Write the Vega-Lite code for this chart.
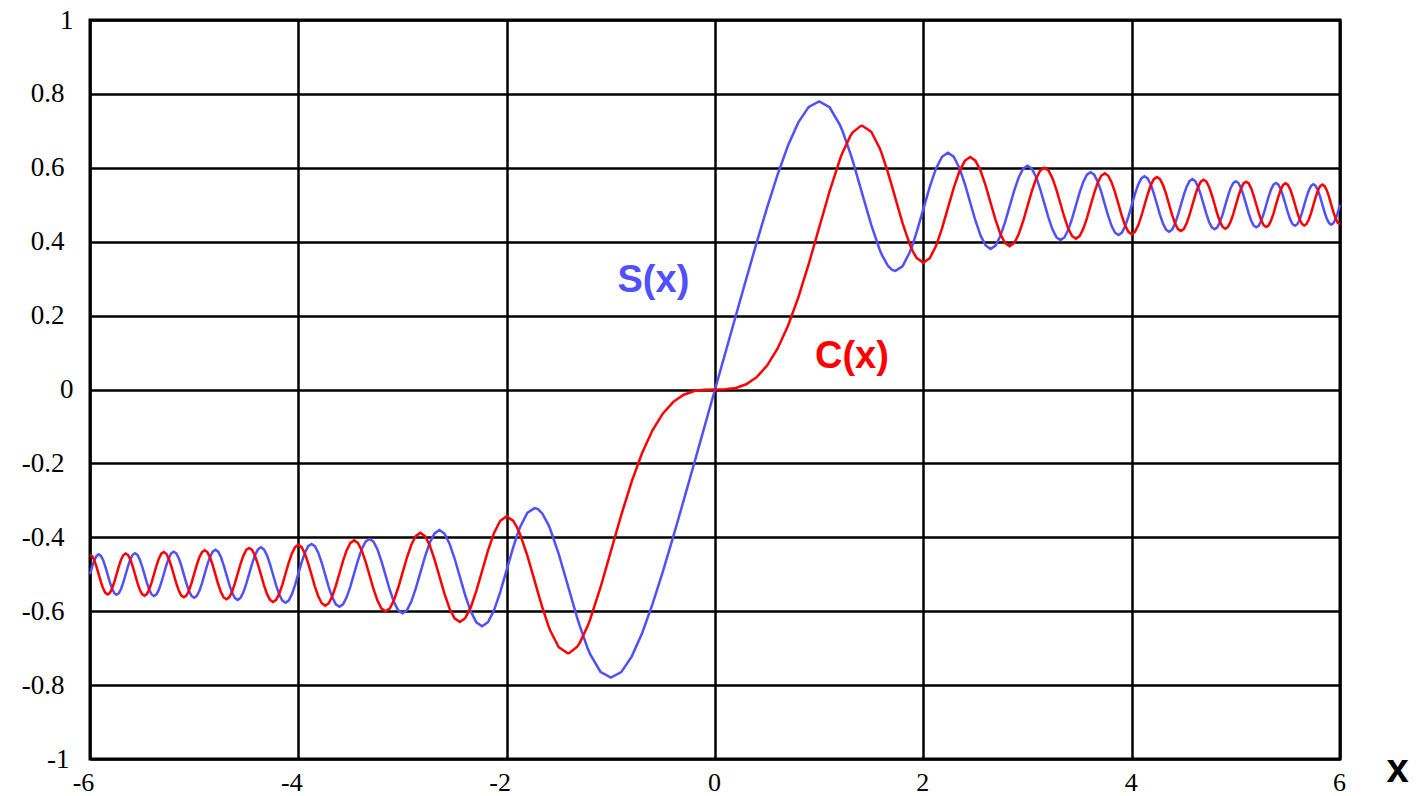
{
  "$schema": "https://vega.github.io/schema/vega-lite/v6.json",
  "width": 1250,
  "height": 739,
  "autosize": {"type": "none"},
  "padding": {"left": 90, "top": 20, "right": 85, "bottom": 37},
  "background": "white",
  "config": {
    "view": {"stroke": "black", "strokeWidth": 3},
    "axis": {
      "grid": true,
      "gridColor": "black",
      "gridWidth": 2.5,
      "gridOpacity": 1,
      "ticks": false,
      "tickSize": 0,
      "domain": false,
      "labelFont": "Liberation Serif",
      "labelFontSize": 27,
      "labelColor": "black",
      "labelFlush": false,
      "labelOverlap": false,
      "labelExpr": "'' + datum.value"
    }
  },
  "data": {
    "values": [
      {"x": -6, "S": -0.4995, "C": -0.447},
      {"x": -5.9791, "S": -0.4792, "C": -0.451},
      {"x": -5.9582, "S": -0.4619, "C": -0.4626},
      {"x": -5.9372, "S": -0.4503, "C": -0.4799},
      {"x": -5.9161, "S": -0.4462, "C": -0.5005},
      {"x": -5.8949, "S": -0.4503, "C": -0.5211},
      {"x": -5.8737, "S": -0.462, "C": -0.5387},
      {"x": -5.8524, "S": -0.4797, "C": -0.5504},
      {"x": -5.831, "S": -0.5005, "C": -0.5546},
      {"x": -5.8095, "S": -0.5214, "C": -0.5504},
      {"x": -5.7879, "S": -0.5393, "C": -0.5385},
      {"x": -5.7663, "S": -0.5512, "C": -0.5206},
      {"x": -5.7446, "S": -0.5554, "C": -0.4995},
      {"x": -5.7228, "S": -0.5512, "C": -0.4782},
      {"x": -5.7009, "S": -0.5391, "C": -0.4601},
      {"x": -5.6789, "S": -0.5209, "C": -0.448},
      {"x": -5.6569, "S": -0.4994, "C": -0.4438},
      {"x": -5.6347, "S": -0.4779, "C": -0.448},
      {"x": -5.6125, "S": -0.4595, "C": -0.4603},
      {"x": -5.5902, "S": -0.4472, "C": -0.4788},
      {"x": -5.5678, "S": -0.4429, "C": -0.5006},
      {"x": -5.5453, "S": -0.4472, "C": -0.5225},
      {"x": -5.5227, "S": -0.4597, "C": -0.5412},
      {"x": -5.5, "S": -0.4784, "C": -0.5537},
      {"x": -5.4772, "S": -0.5006, "C": -0.5581},
      {"x": -5.4544, "S": -0.5229, "C": -0.5537},
      {"x": -5.4314, "S": -0.5419, "C": -0.541},
      {"x": -5.4083, "S": -0.5546, "C": -0.5219},
      {"x": -5.3852, "S": -0.5591, "C": -0.4994},
      {"x": -5.3619, "S": -0.5546, "C": -0.4767},
      {"x": -5.3385, "S": -0.5417, "C": -0.4574},
      {"x": -5.3151, "S": -0.5223, "C": -0.4444},
      {"x": -5.2915, "S": -0.4993, "C": -0.4399},
      {"x": -5.2678, "S": -0.4763, "C": -0.4445},
      {"x": -5.244, "S": -0.4566, "C": -0.4576},
      {"x": -5.2202, "S": -0.4434, "C": -0.4773},
      {"x": -5.1962, "S": -0.4388, "C": -0.5007},
      {"x": -5.172, "S": -0.4434, "C": -0.5242},
      {"x": -5.1478, "S": -0.4568, "C": -0.5442},
      {"x": -5.1235, "S": -0.4769, "C": -0.5577},
      {"x": -5.099, "S": -0.5008, "C": -0.5624},
      {"x": -5.0744, "S": -0.5247, "C": -0.5576},
      {"x": -5.0498, "S": -0.5451, "C": -0.544},
      {"x": -5.0249, "S": -0.5588, "C": -0.5235},
      {"x": -5, "S": -0.5636, "C": -0.4992},
      {"x": -4.9749, "S": -0.5588, "C": -0.4748},
      {"x": -4.9497, "S": -0.5449, "C": -0.454},
      {"x": -4.9244, "S": -0.5239, "C": -0.44},
      {"x": -4.899, "S": -0.4991, "C": -0.4351},
      {"x": -4.8734, "S": -0.4742, "C": -0.44},
      {"x": -4.8477, "S": -0.453, "C": -0.4542},
      {"x": -4.8218, "S": -0.4387, "C": -0.4756},
      {"x": -4.7958, "S": -0.4337, "C": -0.5009},
      {"x": -4.7697, "S": -0.4387, "C": -0.5264},
      {"x": -4.7434, "S": -0.4533, "C": -0.5481},
      {"x": -4.717, "S": -0.4751, "C": -0.5627},
      {"x": -4.6904, "S": -0.501, "C": -0.5678},
      {"x": -4.6637, "S": -0.527, "C": -0.5626},
      {"x": -4.6368, "S": -0.5492, "C": -0.5478},
      {"x": -4.6098, "S": -0.5642, "C": -0.5255},
      {"x": -4.5826, "S": -0.5694, "C": -0.499},
      {"x": -4.5552, "S": -0.5641, "C": -0.4723},
      {"x": -4.5277, "S": -0.5489, "C": -0.4496},
      {"x": -4.5, "S": -0.526, "C": -0.4343},
      {"x": -4.4721, "S": -0.4989, "C": -0.4289},
      {"x": -4.4441, "S": -0.4716, "C": -0.4343},
      {"x": -4.4159, "S": -0.4482, "C": -0.4499},
      {"x": -4.3875, "S": -0.4326, "C": -0.4734},
      {"x": -4.3589, "S": -0.427, "C": -0.5012},
      {"x": -4.3301, "S": -0.4326, "C": -0.5293},
      {"x": -4.3012, "S": -0.4486, "C": -0.5532},
      {"x": -4.272, "S": -0.4727, "C": -0.5693},
      {"x": -4.2426, "S": -0.5013, "C": -0.575},
      {"x": -4.2131, "S": -0.5301, "C": -0.5692},
      {"x": -4.1833, "S": -0.5547, "C": -0.5528},
      {"x": -4.1533, "S": -0.5713, "C": -0.528},
      {"x": -4.1231, "S": -0.5771, "C": -0.4986},
      {"x": -4.0927, "S": -0.5712, "C": -0.4689},
      {"x": -4.062, "S": -0.5543, "C": -0.4436},
      {"x": -4.0311, "S": -0.5288, "C": -0.4265},
      {"x": -4, "S": -0.4984, "C": -0.4205},
      {"x": -3.9686, "S": -0.4679, "C": -0.4266},
      {"x": -3.937, "S": -0.4417, "C": -0.4441},
      {"x": -3.9051, "S": -0.4241, "C": -0.4704},
      {"x": -3.873, "S": -0.4179, "C": -0.5017},
      {"x": -3.8406, "S": -0.4242, "C": -0.5333},
      {"x": -3.8079, "S": -0.4423, "C": -0.5603},
      {"x": -3.7749, "S": -0.4695, "C": -0.5785},
      {"x": -3.7417, "S": -0.5019, "C": -0.5849},
      {"x": -3.7081, "S": -0.5346, "C": -0.5784},
      {"x": -3.6742, "S": -0.5626, "C": -0.5597},
      {"x": -3.6401, "S": -0.5815, "C": -0.5315},
      {"x": -3.6056, "S": -0.5881, "C": -0.4979},
      {"x": -3.5707, "S": -0.5814, "C": -0.4639},
      {"x": -3.5355, "S": -0.5619, "C": -0.4349},
      {"x": -3.5, "S": -0.5326, "C": -0.4153},
      {"x": -3.4641, "S": -0.4976, "C": -0.4083},
      {"x": -3.4278, "S": -0.4622, "C": -0.4154},
      {"x": -3.3912, "S": -0.432, "C": -0.4356},
      {"x": -3.3541, "S": -0.4115, "C": -0.4662},
      {"x": -3.3166, "S": -0.4043, "C": -0.5027},
      {"x": -3.2787, "S": -0.4116, "C": -0.5397},
      {"x": -3.2404, "S": -0.4328, "C": -0.5714},
      {"x": -3.2016, "S": -0.4649, "C": -0.5928},
      {"x": -3.1623, "S": -0.5032, "C": -0.6004},
      {"x": -3.1225, "S": -0.5419, "C": -0.5926},
      {"x": -3.0822, "S": -0.5752, "C": -0.5704},
      {"x": -3.0414, "S": -0.5977, "C": -0.5366},
      {"x": -3, "S": -0.6057, "C": -0.4963},
      {"x": -2.958, "S": -0.5976, "C": -0.4554},
      {"x": -2.9155, "S": -0.5741, "C": -0.4203},
      {"x": -2.8723, "S": -0.5384, "C": -0.3965},
      {"x": -2.8284, "S": -0.4956, "C": -0.388},
      {"x": -2.7839, "S": -0.4522, "C": -0.3966},
      {"x": -2.7386, "S": -0.4148, "C": -0.4216},
      {"x": -2.6926, "S": -0.3894, "C": -0.4597},
      {"x": -2.6458, "S": -0.3804, "C": -0.5053},
      {"x": -2.5981, "S": -0.3897, "C": -0.5518},
      {"x": -2.5495, "S": -0.4165, "C": -0.5919},
      {"x": -2.5, "S": -0.4574, "C": -0.6192},
      {"x": -2.4495, "S": -0.5066, "C": -0.629},
      {"x": -2.3979, "S": -0.5569, "C": -0.6189},
      {"x": -2.3452, "S": -0.6004, "C": -0.5898},
      {"x": -2.2913, "S": -0.6302, "C": -0.5452},
      {"x": -2.2361, "S": -0.6408, "C": -0.4914},
      {"x": -2.1795, "S": -0.6298, "C": -0.4362},
      {"x": -2.1213, "S": -0.5977, "C": -0.3882},
      {"x": -2.0616, "S": -0.5483, "C": -0.3553},
      {"x": -2, "S": -0.4883, "C": -0.3434},
      {"x": -1.9365, "S": -0.4264, "C": -0.3558},
      {"x": -1.9, "S": -0.3945, "C": -0.3734},
      {"x": -1.8708, "S": -0.3722, "C": -0.3921},
      {"x": -1.8028, "S": -0.3347, "C": -0.4484},
      {"x": -1.8, "S": -0.3336, "C": -0.4509},
      {"x": -1.7321, "S": -0.3211, "C": -0.5173},
      {"x": -1.7, "S": -0.3238, "C": -0.5492},
      {"x": -1.6583, "S": -0.3355, "C": -0.5892},
      {"x": -1.6, "S": -0.3655, "C": -0.6389},
      {"x": -1.5811, "S": -0.3782, "C": -0.6528},
      {"x": -1.5, "S": -0.4453, "C": -0.6975},
      {"x": -1.4142, "S": -0.5288, "C": -0.714},
      {"x": -1.4, "S": -0.5431, "C": -0.7135},
      {"x": -1.3229, "S": -0.6179, "C": -0.6961},
      {"x": -1.3, "S": -0.6386, "C": -0.6863},
      {"x": -1.2247, "S": -0.6988, "C": -0.6417},
      {"x": -1.2, "S": -0.7154, "C": -0.6234},
      {"x": -1.1, "S": -0.7638, "C": -0.5365},
      {"x": -1, "S": -0.7799, "C": -0.4383},
      {"x": -0.9, "S": -0.7648, "C": -0.3397},
      {"x": -0.8, "S": -0.7228, "C": -0.2493},
      {"x": -0.7, "S": -0.6597, "C": -0.1721},
      {"x": -0.6, "S": -0.5811, "C": -0.1105},
      {"x": -0.5, "S": -0.4923, "C": -0.0647},
      {"x": -0.4, "S": -0.3975, "C": -0.0334},
      {"x": -0.3, "S": -0.2994, "C": -0.0141},
      {"x": -0.2, "S": -0.1999, "C": -0.0042},
      {"x": -0.1, "S": -0.0999, "C": -0.0005},
      {"x": 0, "S": 0, "C": 0},
      {"x": 0.1, "S": 0.0999, "C": 0.0005},
      {"x": 0.2, "S": 0.1999, "C": 0.0042},
      {"x": 0.3, "S": 0.2994, "C": 0.0141},
      {"x": 0.4, "S": 0.3975, "C": 0.0334},
      {"x": 0.5, "S": 0.4923, "C": 0.0647},
      {"x": 0.6, "S": 0.5811, "C": 0.1105},
      {"x": 0.7, "S": 0.6597, "C": 0.1721},
      {"x": 0.8, "S": 0.7228, "C": 0.2493},
      {"x": 0.9, "S": 0.7648, "C": 0.3397},
      {"x": 1, "S": 0.7799, "C": 0.4383},
      {"x": 1.1, "S": 0.7638, "C": 0.5365},
      {"x": 1.2, "S": 0.7154, "C": 0.6234},
      {"x": 1.2247, "S": 0.6988, "C": 0.6417},
      {"x": 1.3, "S": 0.6386, "C": 0.6863},
      {"x": 1.3229, "S": 0.6179, "C": 0.6961},
      {"x": 1.4, "S": 0.5431, "C": 0.7135},
      {"x": 1.4142, "S": 0.5288, "C": 0.714},
      {"x": 1.5, "S": 0.4453, "C": 0.6975},
      {"x": 1.5811, "S": 0.3782, "C": 0.6528},
      {"x": 1.6, "S": 0.3655, "C": 0.6389},
      {"x": 1.6583, "S": 0.3355, "C": 0.5892},
      {"x": 1.7, "S": 0.3238, "C": 0.5492},
      {"x": 1.7321, "S": 0.3211, "C": 0.5173},
      {"x": 1.8, "S": 0.3336, "C": 0.4509},
      {"x": 1.8028, "S": 0.3347, "C": 0.4484},
      {"x": 1.8708, "S": 0.3722, "C": 0.3921},
      {"x": 1.9, "S": 0.3945, "C": 0.3734},
      {"x": 1.9365, "S": 0.4264, "C": 0.3558},
      {"x": 2, "S": 0.4883, "C": 0.3434},
      {"x": 2.0616, "S": 0.5483, "C": 0.3553},
      {"x": 2.1213, "S": 0.5977, "C": 0.3882},
      {"x": 2.1795, "S": 0.6298, "C": 0.4362},
      {"x": 2.2361, "S": 0.6408, "C": 0.4914},
      {"x": 2.2913, "S": 0.6302, "C": 0.5452},
      {"x": 2.3452, "S": 0.6004, "C": 0.5898},
      {"x": 2.3979, "S": 0.5569, "C": 0.6189},
      {"x": 2.4495, "S": 0.5066, "C": 0.629},
      {"x": 2.5, "S": 0.4574, "C": 0.6192},
      {"x": 2.5495, "S": 0.4165, "C": 0.5919},
      {"x": 2.5981, "S": 0.3897, "C": 0.5518},
      {"x": 2.6458, "S": 0.3804, "C": 0.5053},
      {"x": 2.6926, "S": 0.3894, "C": 0.4597},
      {"x": 2.7386, "S": 0.4148, "C": 0.4216},
      {"x": 2.7839, "S": 0.4522, "C": 0.3966},
      {"x": 2.8284, "S": 0.4956, "C": 0.388},
      {"x": 2.8723, "S": 0.5384, "C": 0.3965},
      {"x": 2.9155, "S": 0.5741, "C": 0.4203},
      {"x": 2.958, "S": 0.5976, "C": 0.4554},
      {"x": 3, "S": 0.6057, "C": 0.4963},
      {"x": 3.0414, "S": 0.5977, "C": 0.5366},
      {"x": 3.0822, "S": 0.5752, "C": 0.5704},
      {"x": 3.1225, "S": 0.5419, "C": 0.5926},
      {"x": 3.1623, "S": 0.5032, "C": 0.6004},
      {"x": 3.2016, "S": 0.4649, "C": 0.5928},
      {"x": 3.2404, "S": 0.4328, "C": 0.5714},
      {"x": 3.2787, "S": 0.4116, "C": 0.5397},
      {"x": 3.3166, "S": 0.4043, "C": 0.5027},
      {"x": 3.3541, "S": 0.4115, "C": 0.4662},
      {"x": 3.3912, "S": 0.432, "C": 0.4356},
      {"x": 3.4278, "S": 0.4622, "C": 0.4154},
      {"x": 3.4641, "S": 0.4976, "C": 0.4083},
      {"x": 3.5, "S": 0.5326, "C": 0.4153},
      {"x": 3.5355, "S": 0.5619, "C": 0.4349},
      {"x": 3.5707, "S": 0.5814, "C": 0.4639},
      {"x": 3.6056, "S": 0.5881, "C": 0.4979},
      {"x": 3.6401, "S": 0.5815, "C": 0.5315},
      {"x": 3.6742, "S": 0.5626, "C": 0.5597},
      {"x": 3.7081, "S": 0.5346, "C": 0.5784},
      {"x": 3.7417, "S": 0.5019, "C": 0.5849},
      {"x": 3.7749, "S": 0.4695, "C": 0.5785},
      {"x": 3.8079, "S": 0.4423, "C": 0.5603},
      {"x": 3.8406, "S": 0.4242, "C": 0.5333},
      {"x": 3.873, "S": 0.4179, "C": 0.5017},
      {"x": 3.9051, "S": 0.4241, "C": 0.4704},
      {"x": 3.937, "S": 0.4417, "C": 0.4441},
      {"x": 3.9686, "S": 0.4679, "C": 0.4266},
      {"x": 4, "S": 0.4984, "C": 0.4205},
      {"x": 4.0311, "S": 0.5288, "C": 0.4265},
      {"x": 4.062, "S": 0.5543, "C": 0.4436},
      {"x": 4.0927, "S": 0.5712, "C": 0.4689},
      {"x": 4.1231, "S": 0.5771, "C": 0.4986},
      {"x": 4.1533, "S": 0.5713, "C": 0.528},
      {"x": 4.1833, "S": 0.5547, "C": 0.5528},
      {"x": 4.2131, "S": 0.5301, "C": 0.5692},
      {"x": 4.2426, "S": 0.5013, "C": 0.575},
      {"x": 4.272, "S": 0.4727, "C": 0.5693},
      {"x": 4.3012, "S": 0.4486, "C": 0.5532},
      {"x": 4.3301, "S": 0.4326, "C": 0.5293},
      {"x": 4.3589, "S": 0.427, "C": 0.5012},
      {"x": 4.3875, "S": 0.4326, "C": 0.4734},
      {"x": 4.4159, "S": 0.4482, "C": 0.4499},
      {"x": 4.4441, "S": 0.4716, "C": 0.4343},
      {"x": 4.4721, "S": 0.4989, "C": 0.4289},
      {"x": 4.5, "S": 0.526, "C": 0.4343},
      {"x": 4.5277, "S": 0.5489, "C": 0.4496},
      {"x": 4.5552, "S": 0.5641, "C": 0.4723},
      {"x": 4.5826, "S": 0.5694, "C": 0.499},
      {"x": 4.6098, "S": 0.5642, "C": 0.5255},
      {"x": 4.6368, "S": 0.5492, "C": 0.5478},
      {"x": 4.6637, "S": 0.527, "C": 0.5626},
      {"x": 4.6904, "S": 0.501, "C": 0.5678},
      {"x": 4.717, "S": 0.4751, "C": 0.5627},
      {"x": 4.7434, "S": 0.4533, "C": 0.5481},
      {"x": 4.7697, "S": 0.4387, "C": 0.5264},
      {"x": 4.7958, "S": 0.4337, "C": 0.5009},
      {"x": 4.8218, "S": 0.4387, "C": 0.4756},
      {"x": 4.8477, "S": 0.453, "C": 0.4542},
      {"x": 4.8734, "S": 0.4742, "C": 0.44},
      {"x": 4.899, "S": 0.4991, "C": 0.4351},
      {"x": 4.9244, "S": 0.5239, "C": 0.44},
      {"x": 4.9497, "S": 0.5449, "C": 0.454},
      {"x": 4.9749, "S": 0.5588, "C": 0.4748},
      {"x": 5, "S": 0.5636, "C": 0.4992},
      {"x": 5.0249, "S": 0.5588, "C": 0.5235},
      {"x": 5.0498, "S": 0.5451, "C": 0.544},
      {"x": 5.0744, "S": 0.5247, "C": 0.5576},
      {"x": 5.099, "S": 0.5008, "C": 0.5624},
      {"x": 5.1235, "S": 0.4769, "C": 0.5577},
      {"x": 5.1478, "S": 0.4568, "C": 0.5442},
      {"x": 5.172, "S": 0.4434, "C": 0.5242},
      {"x": 5.1962, "S": 0.4388, "C": 0.5007},
      {"x": 5.2202, "S": 0.4434, "C": 0.4773},
      {"x": 5.244, "S": 0.4566, "C": 0.4576},
      {"x": 5.2678, "S": 0.4763, "C": 0.4445},
      {"x": 5.2915, "S": 0.4993, "C": 0.4399},
      {"x": 5.3151, "S": 0.5223, "C": 0.4444},
      {"x": 5.3385, "S": 0.5417, "C": 0.4574},
      {"x": 5.3619, "S": 0.5546, "C": 0.4767},
      {"x": 5.3852, "S": 0.5591, "C": 0.4994},
      {"x": 5.4083, "S": 0.5546, "C": 0.5219},
      {"x": 5.4314, "S": 0.5419, "C": 0.541},
      {"x": 5.4544, "S": 0.5229, "C": 0.5537},
      {"x": 5.4772, "S": 0.5006, "C": 0.5581},
      {"x": 5.5, "S": 0.4784, "C": 0.5537},
      {"x": 5.5227, "S": 0.4597, "C": 0.5412},
      {"x": 5.5453, "S": 0.4472, "C": 0.5225},
      {"x": 5.5678, "S": 0.4429, "C": 0.5006},
      {"x": 5.5902, "S": 0.4472, "C": 0.4788},
      {"x": 5.6125, "S": 0.4595, "C": 0.4603},
      {"x": 5.6347, "S": 0.4779, "C": 0.448},
      {"x": 5.6569, "S": 0.4994, "C": 0.4438},
      {"x": 5.6789, "S": 0.5209, "C": 0.448},
      {"x": 5.7009, "S": 0.5391, "C": 0.4601},
      {"x": 5.7228, "S": 0.5512, "C": 0.4782},
      {"x": 5.7446, "S": 0.5554, "C": 0.4995},
      {"x": 5.7663, "S": 0.5512, "C": 0.5206},
      {"x": 5.7879, "S": 0.5393, "C": 0.5385},
      {"x": 5.8095, "S": 0.5214, "C": 0.5504},
      {"x": 5.831, "S": 0.5005, "C": 0.5546},
      {"x": 5.8524, "S": 0.4797, "C": 0.5504},
      {"x": 5.8737, "S": 0.462, "C": 0.5387},
      {"x": 5.8949, "S": 0.4503, "C": 0.5211},
      {"x": 5.9161, "S": 0.4462, "C": 0.5005},
      {"x": 5.9372, "S": 0.4503, "C": 0.4799},
      {"x": 5.9582, "S": 0.4619, "C": 0.4626},
      {"x": 5.9791, "S": 0.4792, "C": 0.451},
      {"x": 6, "S": 0.4995, "C": 0.447}
    ]
  },
  "layer": [
    {
      "mark": {"type": "line", "color": "#5050ff", "strokeWidth": 2.5},
      "encoding": {
        "x": {
          "field": "x",
          "type": "quantitative",
          "scale": {"domain": [-6, 6], "nice": false, "zero": false},
          "axis": {
            "values": [-6, -4, -2, 0, 2, 4, 6],
            "labelFontSize": 26,
            "labelBaseline": "alphabetic",
            "labelPadding": 31,
            "labelOffset": {"condition": {"test": "datum.value < 0", "value": -7}, "value": -1},
            "title": "x",
            "titleFont": "Liberation Sans",
            "titleFontWeight": "bold",
            "titleFontSize": 40,
            "titleColor": "black",
            "titleX": 1307,
            "titleY": 22,
            "titleAlign": "center",
            "titleBaseline": "alphabetic"
          }
        },
        "y": {
          "field": "S",
          "type": "quantitative",
          "scale": {"domain": [-1, 1], "nice": false, "zero": false},
          "axis": {
            "values": [-1, -0.8, -0.6, -0.4, -0.2, 0, 0.2, 0.4, 0.6, 0.8, 1],
            "labelBaseline": "middle",
            "labelAlign": "right",
            "labelPadding": {
              "condition": [
                {"test": "datum.value === 1 || datum.value === 0", "value": 17},
                {"test": "datum.value === -1", "value": 21}
              ],
              "value": 26
            },
            "title": null
          }
        }
      }
    },
    {
      "mark": {"type": "line", "color": "#ff0000", "strokeWidth": 2.5},
      "encoding": {
        "x": {"field": "x", "type": "quantitative"},
        "y": {"field": "C", "type": "quantitative"}
      }
    },
    {
      "data": {
        "values": [
          {"x": -0.936, "y": 0.264, "label": "S(x)"},
          {"x": 0.96, "y": 0.058, "label": "C(x)"}
        ]
      },
      "mark": {
        "type": "text",
        "align": "left",
        "baseline": "alphabetic",
        "font": "Liberation Sans",
        "fontWeight": "bold",
        "fontSize": 38
      },
      "encoding": {
        "x": {"field": "x", "type": "quantitative"},
        "y": {"field": "y", "type": "quantitative"},
        "text": {"field": "label"},
        "color": {
          "field": "label",
          "type": "nominal",
          "scale": {"domain": ["S(x)", "C(x)"], "range": ["#5050ff", "#ff0000"]},
          "legend": null
        }
      }
    }
  ]
}
